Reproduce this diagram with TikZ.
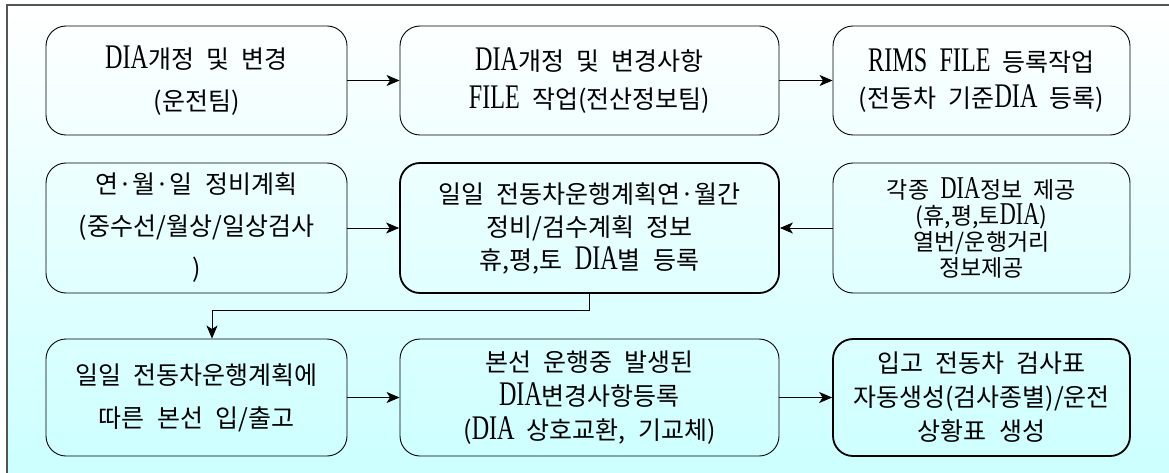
\documentclass[tikz,border=0pt]{standalone}
\usepackage{fontspec}
\setmainfont[WordSpace=2.2]{Noto Sans CJK KR}
\newfontfamily\latf[Scale=1.38,FakeStretch=0.7]{Liberation Serif}
\newcommand\LDIA{{\latf DIA}}
\newcommand\LFILE{{\latf FILE}}
\usetikzlibrary{arrows.meta}
\definecolor{cyanb}{RGB}{204,255,255}
\definecolor{framec}{RGB}{85,85,85}
\begin{document}
\begin{tikzpicture}[x=1pt,y=1pt,
  box/.style={draw=black,line width=0.9pt,rounded corners=20pt,align=center,inner sep=0pt},
  boxb/.style={box,line width=1.8pt},
  c1/.style={minimum width=301pt},
  c2/.style={minimum width=379pt},
  c3/.style={minimum width=297pt},
  r1/.style={minimum height=109pt},
  r2/.style={minimum height=130pt},
  r3/.style={minimum height=117pt},
  arr/.style={draw=black,line width=0.8pt,-{Stealth[length=13pt,width=11pt,inset=3.5pt]}},
  lead/.style={font=\fontsize{25}{#1}\selectfont}]
\useasboundingbox (0,0) rectangle (1169,-473);
\shade[top color=white,bottom color=cyanb] (7,-5) rectangle (1169,-473);
\draw[framec,line width=1.5pt] (7,-473) -- (7,-5) -- (1169,-5);

\node[box,c1,r1,lead=42] (b1) at (196.5,-80.5) {\LDIA 개정 및 변경\\(운전팀)};
\node[box,c2,r1,lead=38] (b2) at (589.5,-80.5) {\LDIA 개정 및 변경사항\\\LFILE\ 작업(전산정보팀)};
\node[box,c3,r1,lead=36] (b3) at (981.5,-80.5) {{\latf RIMS} {\latf FILE} 등록작업\\(전동차 기준\LDIA\ 등록)};

\node[box,c1,r2,lead=42] (b4) at (196.5,-228) {연·월·일 정비계획\\(중수선/월상/일상검사\\)};
\node[boxb,c2,r2,lead=33] (b5) at (589.5,-228) {일일 전동차운행계획연·월간\\정비/검수계획 정보\\휴,평,토 \LDIA 별 등록};
\node[box,c3,r2,font=\fontsize{23}{26}\selectfont] (b6) at (981.5,-228) {각종 \LDIA 정보 제공\\(휴,평,토\LDIA)\\열번/운행거리\\정보제공};

\node[box,c1,r3,lead=43] (b7) at (196.5,-397.5) {일일 전동차운행계획에\\따른 본선 입/출고};
\node[box,c2,r3,lead=34] (b8) at (589.5,-397.5) {본선 운행중 발생된\\\LDIA 변경사항등록\\(\LDIA\ 상호교환, 기교체)};
\node[boxb,c3,r3,lead=34] (b9) at (981.5,-397.5) {입고 전동차 검사표\\자동생성(검사종별)/운전\\상황표 생성};

\draw[arr] (b1) -- (b2);
\draw[arr] (b2) -- (b3);
\draw[arr] (b4) -- (b5);
\draw[arr] (b6) -- (b5);
\draw[arr] (b7) -- (b8);
\draw[arr] (b8) -- (b9);
\coordinate (t) at (212,-310);
\draw[arr] (b5.south) |- (t) -- (t |- b7.north);
\end{tikzpicture}
\end{document}
